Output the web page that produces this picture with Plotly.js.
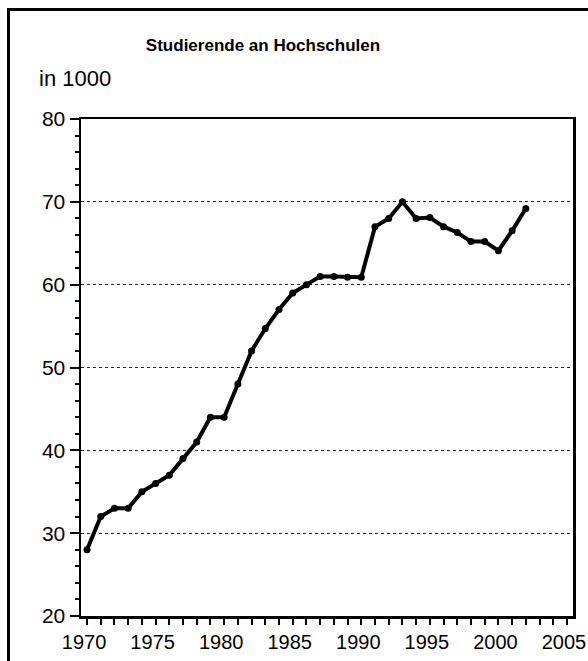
<!DOCTYPE html>
<html>
<head>
<meta charset="utf-8">
<script src="https://cdn.plot.ly/plotly-3.0.1.min.js"></script>
<style>
  html, body { margin: 0; padding: 0; background: #fff; overflow: hidden; }
  #frame { position: absolute; left: 7px; top: 8px; width: 700px; height: 800px;
           border-left: 3px solid #000; border-top: 3px solid #000; pointer-events: none; z-index: 5; }
  #chart { width: 588px; height: 661px; }
</style>
</head>
<body>
<div id="frame"></div>
<div id="chart"></div>
<script>
const years = [1970,1971,1972,1973,1974,1975,1976,1977,1978,1979,1980,1981,1982,1983,1984,1985,1986,
               1987,1988,1989,1990,1991,1992,1993,1994,1995,1996,1997,1998,1999,2000,2001,2002];
const students = [28,32,33,33,35,36,37,39,41,44,44,48,52,54.7,57,59,60,
                  61,61,60.9,60.9,67,68,70,68,68.1,67,66.3,65.2,65.2,64.1,66.5,69.2];
const xTickVals = [1970,1975,1980,1985,1990,1995,2000,2005];
const yTickVals = [20,30,40,50,60,70,80];
const chartTitle = 'Studierende an Hochschulen';
const unitLabel = 'in 1000';

const FONT = '"Liberation Sans", Arial, sans-serif';

const trace = {
  x: years, y: students, type: 'scatter', mode: 'lines+markers',
  line: { color: '#000', width: 4 },
  marker: { color: '#000', size: 7 },
  cliponaxis: false,
  hoverinfo: 'skip'
};

const layout = {
  width: 588, height: 661,
  margin: { l: 81, r: 15, t: 119, b: 45, pad: 0 },
  paper_bgcolor: '#fff', plot_bgcolor: '#fff',
  showlegend: false,
  font: { family: FONT, color: '#000', size: 20 },
  title: { text: '<b>' + chartTitle + '</b>', font: { family: FONT, size: 17, color: '#000' },
           xref: 'container', x: 263/588, xanchor: 'center', yref: 'container', y: 1 - 45/661, yanchor: 'middle' },
  xaxis: {
    range: [1969.56, 2005.44], tickvals: xTickVals, ticktext: xTickVals.map(String),
    showgrid: false, zeroline: false,
    showline: true, linecolor: '#000', linewidth: 2.5, mirror: true,
    ticks: 'outside', ticklen: 6, tickwidth: 2, tickcolor: '#000',
    minor: { dtick: 1, tick0: 1970, ticks: 'outside', ticklen: 6, tickwidth: 2, tickcolor: '#000', showgrid: false },
    tickfont: { family: FONT, size: 20, color: '#000' },
    ticklabelshift: -3, ticklabeloverflow: 'allow', fixedrange: true
  },
  yaxis: {
    range: [20, 80], tickvals: yTickVals, ticktext: yTickVals.map(String),
    showgrid: true, gridcolor: '#222', gridwidth: 1, griddash: 'dot',
    zeroline: false,
    showline: true, linecolor: '#000', linewidth: 2.5, mirror: true,
    ticks: 'outside', ticklen: 9, tickwidth: 2, tickcolor: '#000',
    minor: { dtick: 2, tick0: 20, ticks: 'outside', ticklen: 4, tickwidth: 2, tickcolor: '#000', showgrid: false },
    tickfont: { family: FONT, size: 21, color: '#000' }, fixedrange: true
  },
  annotations: [{
    text: unitLabel, xref: 'paper', yref: 'paper', x: (37 - 81) / 492, y: (616 - 78) / 497,
    xanchor: 'left', yanchor: 'middle', showarrow: false,
    font: { family: FONT, size: 22, color: '#000' }
  }]
};

Plotly.newPlot('chart', [trace], layout, { displayModeBar: false, staticPlot: true });
</script>
</body>
</html>
